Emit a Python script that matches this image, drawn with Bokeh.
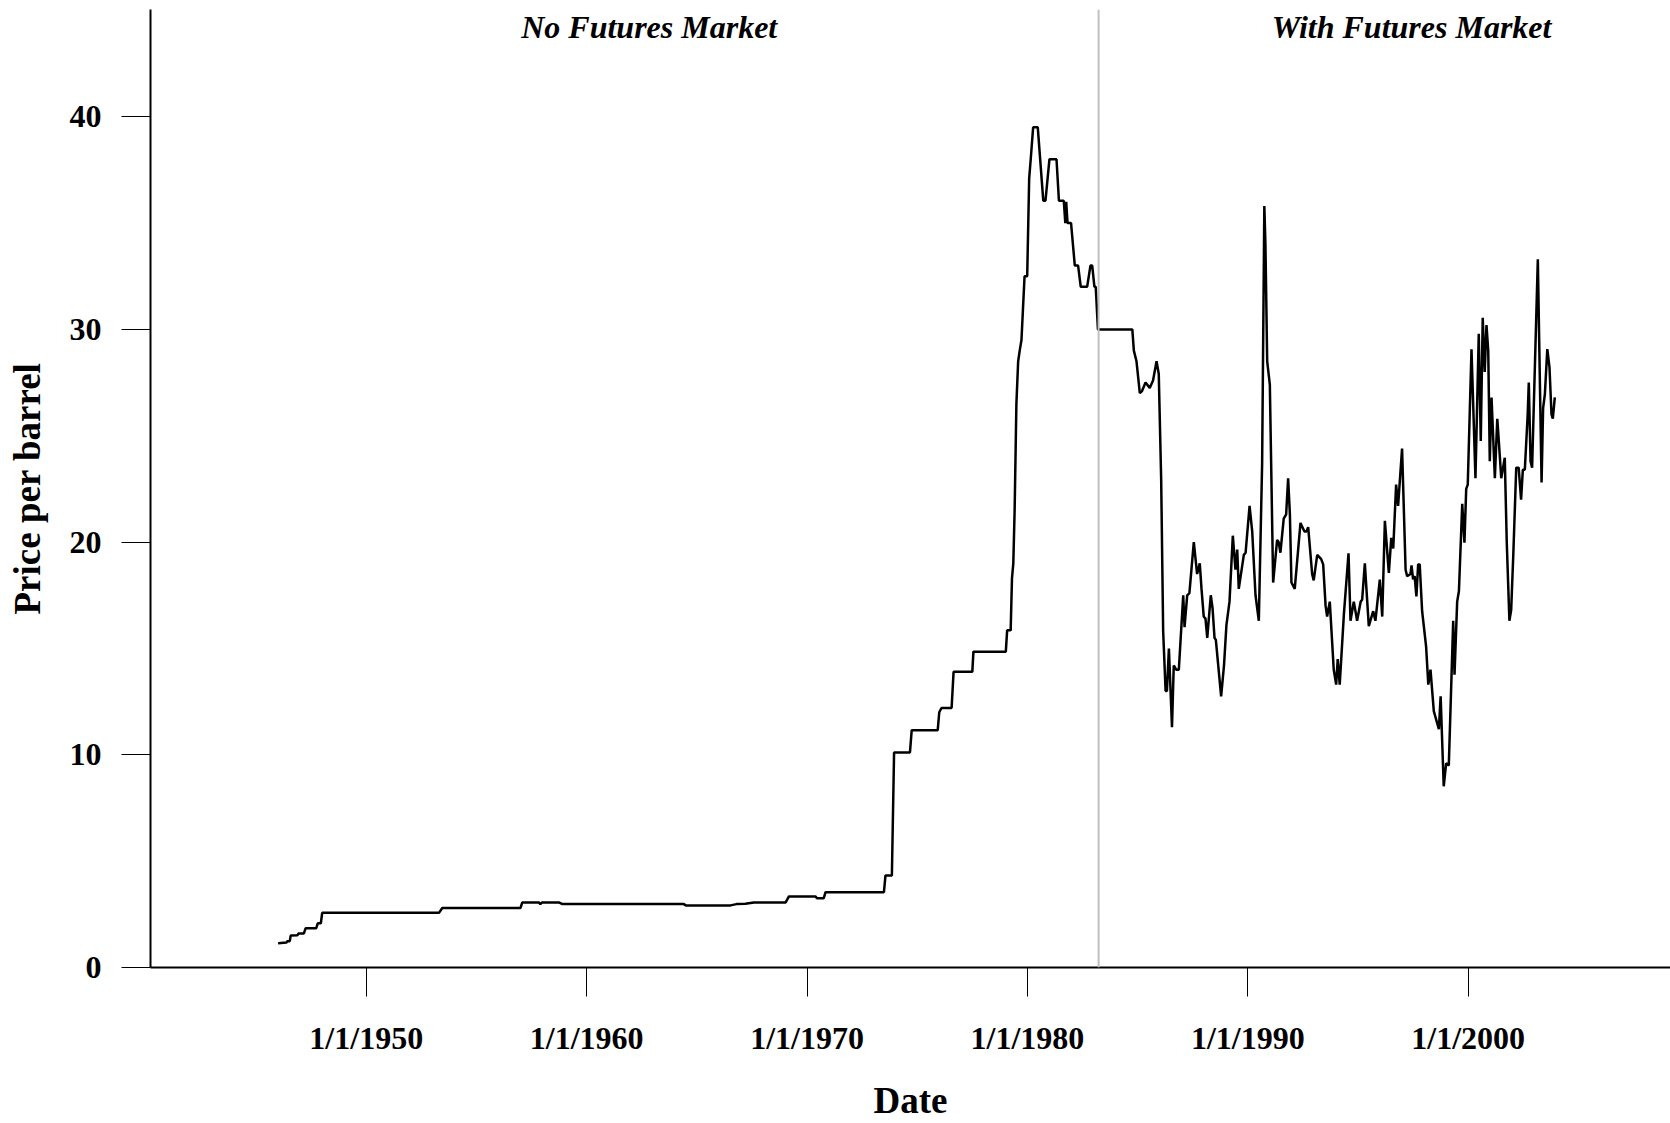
from bokeh.plotting import figure
from bokeh.models import FixedTicker, Span, Label, Range1d, ColumnDataSource
from bokeh.embed import file_html
from bokeh.resources import INLINE

# ---- data ----
years = [
    1946.00, 1946.38, 1946.42, 1946.53, 1946.57, 1946.88, 1946.93, 1947.17, 1947.25, 1947.73,
    1947.80, 1947.94, 1948.00, 1953.30, 1953.45, 1957.00, 1957.08, 1957.83, 1957.90, 1957.98,
    1958.74, 1958.90, 1964.41, 1964.50, 1966.53, 1966.80, 1967.20, 1967.59, 1969.03, 1969.18,
    1970.39, 1970.45, 1970.76, 1970.84, 1973.49, 1973.56, 1973.85, 1973.95, 1974.67, 1974.75,
    1975.93, 1976.00, 1976.10, 1976.56, 1976.65, 1977.50, 1977.55, 1979.02, 1979.08, 1979.24,
    1979.30, 1979.36, 1979.42, 1979.50, 1979.58, 1979.65, 1979.73, 1979.80, 1979.87, 1979.99,
    1980.08, 1980.15, 1980.26, 1980.47, 1980.72, 1980.82, 1981.00, 1981.32, 1981.43, 1981.65,
    1981.72, 1981.76, 1981.82, 1981.98, 1982.15, 1982.30, 1982.42, 1982.71, 1982.86, 1982.94,
    1983.04, 1983.10, 1983.20, 1984.76, 1984.83, 1984.95, 1985.10, 1985.20, 1985.36, 1985.55,
    1985.70, 1985.86, 1985.96, 1986.07, 1986.16, 1986.27, 1986.33, 1986.42, 1986.56, 1986.64,
    1986.75, 1986.87, 1987.07, 1987.13, 1987.25, 1987.35, 1987.45, 1987.55, 1987.70, 1987.82,
    1987.90, 1988.00, 1988.08, 1988.16, 1988.32, 1988.40, 1988.49, 1988.55, 1988.79, 1988.92,
    1989.03, 1989.17, 1989.32, 1989.44, 1989.52, 1989.59, 1989.82, 1989.90, 1990.08, 1990.20,
    1990.35, 1990.50, 1990.65, 1990.75, 1990.80, 1990.88, 1991.00, 1991.15, 1991.33, 1991.40,
    1991.48, 1991.63, 1991.74, 1991.83, 1991.91, 1991.98, 1992.13, 1992.39, 1992.57, 1992.66,
    1992.74, 1992.92, 1992.99, 1993.15, 1993.33, 1993.42, 1993.53, 1993.60, 1993.72, 1993.90,
    1994.01, 1994.08, 1994.17, 1994.36, 1994.57, 1994.66, 1994.81, 1994.96, 1995.12, 1995.19,
    1995.31, 1995.49, 1995.69, 1995.79, 1995.99, 1996.10, 1996.22, 1996.40, 1996.51, 1996.60,
    1996.73, 1996.82, 1997.00, 1997.16, 1997.23, 1997.38, 1997.43, 1997.50, 1997.57, 1997.65,
    1997.73, 1997.80, 1997.91, 1998.09, 1998.19, 1998.29, 1998.44, 1998.67, 1998.75, 1998.89,
    1999.00, 1999.12, 1999.32, 1999.38, 1999.50, 1999.58, 1999.73, 1999.83, 1999.91, 1999.98,
    2000.15, 2000.33, 2000.48, 2000.57, 2000.66, 2000.75, 2000.83, 2000.91, 2000.98, 2001.06,
    2001.21, 2001.32, 2001.39, 2001.50, 2001.66, 2001.75, 2001.87, 2001.95, 2002.05, 2002.18,
    2002.29, 2002.40, 2002.48, 2002.57, 2002.70, 2002.75, 2002.83, 2002.90, 2003.16, 2003.33,
    2003.40, 2003.48, 2003.59, 2003.69, 2003.78, 2003.84, 2003.93,
]
prices = [
    1.14, 1.17, 1.24, 1.24, 1.50, 1.52, 1.60, 1.60, 1.85, 1.85,
    2.08, 2.08, 2.57, 2.57, 2.80, 2.80, 3.06, 3.06, 2.98, 3.06,
    3.06, 2.98, 2.98, 2.92, 2.92, 2.98, 3.00, 3.06, 3.06, 3.34,
    3.34, 3.26, 3.26, 3.54, 3.54, 4.33, 4.33, 10.11, 10.11, 11.16,
    11.16, 12.00, 12.20, 12.20, 13.90, 13.90, 14.85, 14.85, 15.85, 15.85,
    18.30, 19.00, 21.50, 26.50, 28.50, 29.00, 29.50, 31.00, 32.50, 32.50,
    37.10, 38.00, 39.50, 39.50, 36.05, 36.05, 38.00, 38.00, 36.05, 36.05,
    35.00, 36.00, 35.00, 35.00, 33.00, 33.00, 32.00, 32.00, 33.00, 33.00,
    32.00, 32.00, 30.00, 30.00, 29.00, 28.50, 27.00, 27.10, 27.50, 27.25,
    27.60, 28.50, 27.90, 22.90, 15.80, 13.00, 13.00, 15.00, 11.30, 14.20,
    14.00, 14.00, 17.50, 16.00, 17.50, 17.60, 18.80, 20.00, 18.50, 19.00,
    17.80, 16.50, 16.40, 15.50, 17.50, 16.90, 15.50, 15.40, 12.75, 14.20,
    16.10, 17.20, 20.30, 18.70, 19.65, 17.80, 19.40, 19.50, 21.70, 20.50,
    17.50, 16.30, 23.70, 35.80, 34.00, 28.50, 27.40, 18.10, 20.10, 20.00,
    19.50, 21.10, 21.30, 23.00, 21.30, 18.10, 17.80, 20.90, 20.50, 20.50,
    20.70, 18.50, 18.20, 19.40, 19.20, 18.95, 17.00, 16.50, 17.20, 14.00,
    13.30, 14.50, 13.30, 16.60, 19.47, 16.30, 17.20, 16.30, 17.20, 17.30,
    19.00, 16.05, 16.75, 16.30, 18.24, 16.50, 21.00, 18.55, 20.20, 19.70,
    22.70, 21.70, 24.40, 18.70, 18.40, 18.50, 18.90, 18.25, 18.40, 17.45,
    18.95, 18.95, 16.75, 15.10, 13.30, 14.00, 12.05, 11.20, 12.75, 8.52,
    9.60, 9.50, 16.30, 13.77, 17.20, 17.70, 21.80, 19.97, 22.50, 22.70,
    29.07, 23.00, 29.80, 24.75, 30.55, 28.00, 30.20, 29.00, 23.80, 26.80,
    23.00, 25.80, 24.75, 23.00, 23.97, 20.00, 16.30, 16.80, 19.50, 23.50,
    23.50, 22.00, 23.40, 23.40, 26.00, 27.50, 23.80, 23.50, 33.30, 22.80,
    26.30, 26.95, 29.07, 28.20, 26.00, 25.80, 26.80,
]

futures_start = 1983.23
tick_years = [1950, 1960, 1970, 1980, 1990, 2000]
tick_labels = ["1/1/1950", "1/1/1960", "1/1/1970", "1/1/1980", "1/1/1990", "1/1/2000"]
y_ticks = [0, 10, 20, 30, 40]
region_labels = ["No Futures Market", "With Futures Market"]
region_label_x = [1962.84, 1997.43]
region_label_y = 44.2

FONT = "Liberation Serif"

p = figure(width=1670, height=1123, output_backend="svg", toolbar_location=None,
           x_range=Range1d(1940.21, 2009.18), y_range=Range1d(0, 45.04),
           min_border_left=150, min_border_right=0, min_border_top=9,
           min_border_bottom=150, background_fill_color="white",
           border_fill_color="white")
p.outline_line_color = None
p.grid.visible = False

src = ColumnDataSource(dict(year=years, price=prices))
p.line("year", "price", source=src, line_color="black", line_width=2.5)

p.add_layout(Span(location=futures_start, dimension="height",
                  line_color="#c0c0c0", line_width=2))

for txt, lx in zip(region_labels, region_label_x):
    p.add_layout(Label(x=lx, y=region_label_y, text=txt, text_align="center",
                       text_baseline="middle", text_font=FONT,
                       text_font_size="32px", text_font_style="bold italic",
                       text_color="black"))

for ax in (p.xaxis[0], p.yaxis[0]):
    ax.axis_line_width = 2
    ax.axis_line_color = "black"
    ax.major_tick_line_width = 1
    ax.major_tick_line_color = "black"
    ax.major_tick_out = 29
    ax.major_tick_in = 0
    ax.minor_tick_out = 0
    ax.minor_tick_in = 0
    ax.major_label_text_font = FONT
    ax.major_label_text_font_size = "32px"
    ax.major_label_text_font_style = "bold"
    ax.major_label_text_color = "black"
    ax.axis_label_text_font = FONT
    ax.axis_label_text_font_size = "37px"
    ax.axis_label_text_font_style = "bold"
    ax.axis_label_text_color = "black"

p.xaxis.ticker = FixedTicker(ticks=tick_years)
p.xaxis.major_label_overrides = {t: l for t, l in zip(tick_years, tick_labels)}
p.xaxis.major_label_standoff = 23
p.xaxis.axis_label = "Date"
p.xaxis.axis_label_standoff = 21

p.yaxis.ticker = FixedTicker(ticks=y_ticks)
p.yaxis.major_label_standoff = 20
p.yaxis.axis_label = "Price per barrel"
p.yaxis.axis_label_standoff = 19

open("out.html", "w").write(file_html(p, INLINE))
